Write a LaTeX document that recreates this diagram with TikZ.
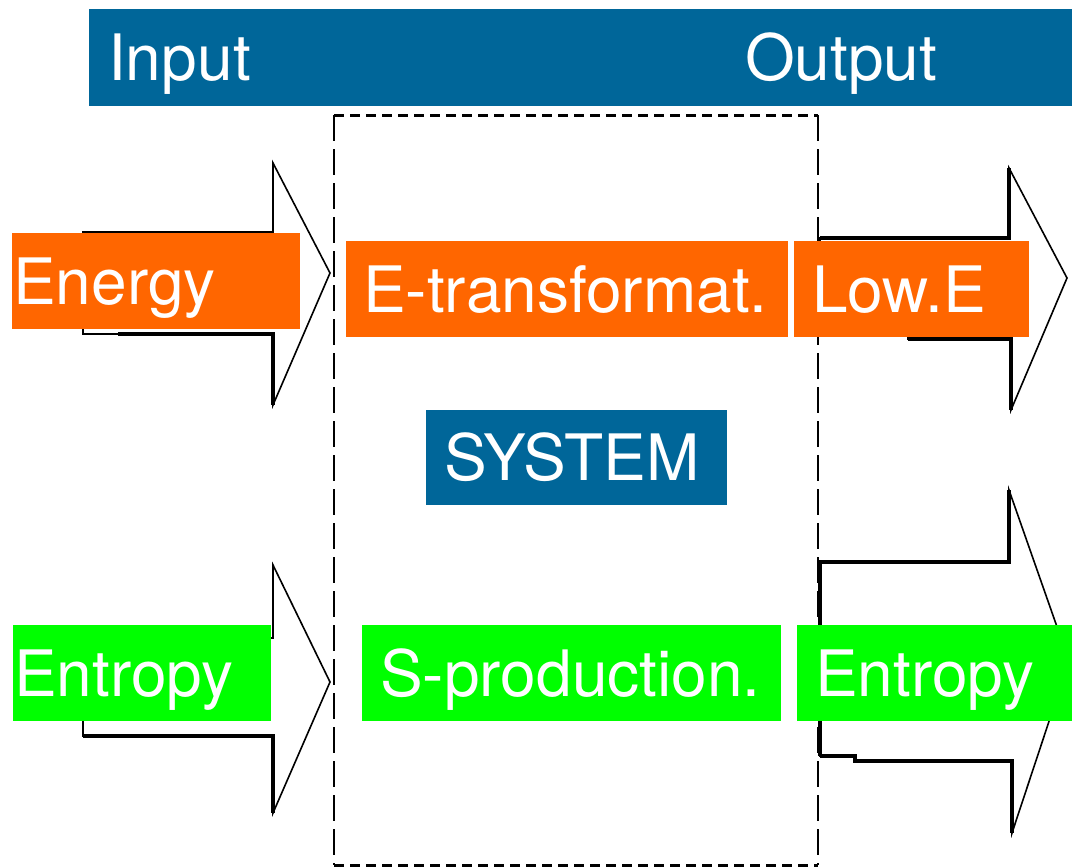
\documentclass[tikz,border=0pt]{standalone}
\usepackage{fontspec}
\setmainfont{TeX Gyre Heros}
\definecolor{sysblue}{RGB}{0,102,153}
\definecolor{enorange}{RGB}{255,102,0}
\definecolor{sgreen}{RGB}{0,255,0}
\begin{document}
\begin{tikzpicture}[x=1pt,y=-1pt,
  lbox/.style={anchor=north west, text=white, inner ysep=0pt, minimum height=96pt,
    text height=46pt, text depth=0pt, align=left,
    font=\fontsize{64pt}{70pt}\selectfont},
  bluebox/.style={lbox, fill=sysblue},
  orangebox/.style={lbox, fill=enorange},
  greenbox/.style={lbox, fill=sgreen},
  arrowline/.style={draw=black, line width=1.6pt, line join=miter, fill=white},
  thickseg/.style={draw=black, line width=3.2pt},
  edgeh/.style={line width=3pt, dash pattern=on 10pt off 6pt},
  edgev/.style={line width=1.2pt, dash pattern=on 26pt off 8pt}]
\useasboundingbox[fill=white] (0,0) rectangle (1072,868);

% system boundary
\coordinate (b1) at (334,115);
\coordinate (b2) at (818,115);
\coordinate (b3) at (818,865);
\coordinate (b4) at (334,865);
\draw[edgeh] (b1) -- (b2);
\draw[edgeh] (b4) -- (b3);
\draw[edgev] (b1) -- (b4);
\draw[edgev] (b2) -- (b3);

% arrows
\draw[arrowline] (83,232) -- (273,232) -- (273,163) -- (330,273) -- (273,405)
  -- (273,334) -- (83,334) -- cycle;
\draw[thickseg] (118,334) -- (273,334) -- (273,405);
\draw[arrowline] (83,638) -- (273,638) -- (273,565) -- (330,682) -- (273,813)
  -- (273,736) -- (83,736) -- cycle;
\draw[thickseg] (83,736) -- (273,736) -- (273,813);
\draw[arrowline] (820,238) -- (1009,238) -- (1009,168) -- (1067,278) -- (1011,410)
  -- (1011,339) -- (908,339) -- (908,336) -- (820,336) -- cycle;
\draw[thickseg] (820,238) -- (1009,238) -- (1009,168);
\draw[thickseg] (908,339) -- (1011,339) -- (1011,410);
\draw[arrowline] (820,562) -- (1009,562) -- (1009,490) -- (1069,661) -- (1012,833)
  -- (1012,761) -- (855,761) -- (855,756) -- (820,756) -- cycle;
\draw[thickseg] (820,756) -- (820,562) -- (1009,562) -- (1009,490);
\draw[thickseg] (820,756) -- (855,756) -- (855,761) -- (1012,761) -- (1012,833);

% header
\node[bluebox, inner xsep=19pt, text width=613pt, minimum height=97pt] (input) at (89,9) {\mbox{Input}};
\node[bluebox, inner xsep=5pt, text width=322pt, minimum height=97pt] (output) at (740,9) {\mbox{Output}};

% energy row
\node[orangebox, inner xsep=1pt, text width=286pt] (energy) at (12,233) {\mbox{Energy}};
\node[orangebox, inner xsep=17pt, text width=408pt] (etrans) at (346,241) {\mbox{E-transformat.}};
\node[orangebox, inner xsep=18pt, text width=199pt] (lowe) at (794,241) {\mbox{Low.E}};

% system
\node[bluebox, inner xsep=18pt, text width=265pt, minimum height=95pt] (system) at (426,410) {\mbox{SYSTEM}};

% entropy row
\node[greenbox, inner xsep=1pt, text width=256pt] (entin) at (13,625) {\mbox{Entropy}};
\node[greenbox, inner xsep=18pt, text width=383pt] (sprod) at (362,625) {\mbox{S-production.}};
\node[greenbox, inner xsep=18pt, text width=239pt] (entout) at (797,625) {\mbox{Entropy}};
\end{tikzpicture}
\end{document}
